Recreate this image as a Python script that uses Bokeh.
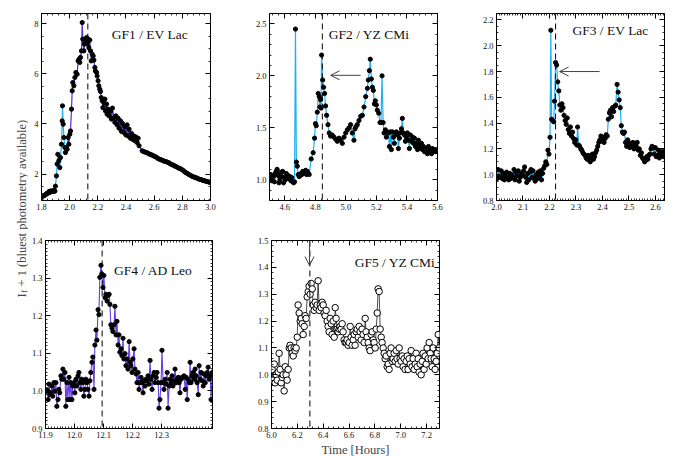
import math
from bokeh.plotting import figure
from bokeh.layouts import row, column
from bokeh.models import (Range1d, SingleIntervalTicker, FixedTicker, PrintfTickFormatter,
                          LinearAxis, Span, Arrow, OpenHead, Label)
from bokeh.embed import file_html
from bokeh.resources import INLINE

FONT = "Liberation Serif"
CYAN = "#1fb0f2"
PURPLE = "#5b2bd6"
PURPLE4 = "#6a3ee0"

# ---------------- data (time [hours], I_f + 1) ----------------
GF1 = [(1.800,1.10),(1.806,1.12),(1.812,1.13),(1.818,1.14),(1.824,1.17),(1.830,1.18),(1.836,1.22),
       (1.842,1.24),(1.848,1.25),(1.854,1.31),(1.860,1.28),(1.866,1.33),(1.872,1.30),(1.878,1.33),
       (1.884,1.31),(1.890,1.35),(1.895,1.32),(1.899,1.52),(1.906,1.93),(1.911,2.40),(1.916,2.79),
       (1.923,2.53),(1.930,2.26),(1.935,2.66),(1.942,3.19),(1.947,4.12),(1.949,4.72),(1.954,3.99),
       (1.959,3.46),(1.966,3.06),(1.970,2.86),(1.975,3.06),(1.982,2.99),(1.989,3.46),(1.994,3.19),
       (2.001,3.59),(2.006,3.72),(2.013,4.59),(2.018,5.32),(2.022,5.65),(2.030,5.52),(2.037,5.85),
       (2.044,6.05),(2.053,5.98),(2.060,6.51),(2.067,6.58),(2.072,6.45),(2.077,6.65),(2.084,6.91),
       (2.089,8.04),(2.093,7.38),(2.101,6.91),(2.105,7.18),(2.112,7.34),(2.120,7.44),(2.124,7.20),
       (2.131,7.38),(2.136,7.04),(2.143,7.34),(2.148,6.91),(2.153,6.51),(2.160,6.78),(2.167,6.71),
       (2.172,6.54),(2.179,6.25),(2.183,6.11),(2.191,6.05),(2.195,5.91),(2.202,5.72),(2.207,5.52),
       (2.214,5.38),(2.219,5.29),(2.224,5.05),(2.231,4.92),(2.236,4.65),(2.243,4.85),(2.250,4.99),
       (2.254,4.52),(2.262,4.79),(2.266,4.39),(2.273,4.59),(2.280,4.32),(2.290,4.52),(2.297,4.19),
       (2.304,4.63),(2.314,4.25),(2.321,4.06),(2.328,4.32),(2.337,3.96),(2.344,4.23),(2.351,3.83),
       (2.361,4.12),(2.368,3.70),(2.375,4.02),(2.385,3.66),(2.392,3.88),(2.399,3.56),(2.408,3.96),
       (2.415,3.52),(2.422,3.79),(2.432,3.43),(2.439,3.62),(2.446,3.39),(2.456,3.52),(2.463,3.33),
       (2.470,3.48),(2.479,3.26),(2.486,3.43),(2.493,3.13),
       (2.515,2.93),(2.525,2.90),(2.535,2.88),(2.545,2.86),(2.555,2.84),(2.565,2.80),(2.575,2.78),
       (2.585,2.76),(2.595,2.73),(2.605,2.70),(2.615,2.68),(2.625,2.63),(2.635,2.60),(2.645,2.58),
       (2.655,2.56),(2.665,2.53),(2.675,2.51),(2.685,2.50),(2.695,2.47),(2.705,2.45),(2.715,2.41),
       (2.725,2.38),(2.735,2.36),(2.745,2.33),(2.755,2.30),(2.765,2.27),(2.775,2.24),(2.785,2.22),
       (2.795,2.19),(2.805,2.15),(2.815,2.10),(2.825,2.06),(2.835,2.03),(2.845,1.99),(2.855,1.96),
       (2.865,1.93),(2.875,1.90),(2.885,1.88),(2.895,1.86),(2.905,1.84),(2.915,1.81),(2.925,1.79),
       (2.935,1.78),(2.945,1.75),(2.955,1.74),(2.965,1.72),(2.975,1.71),(2.985,1.69),(2.995,1.67)]

GF2 = [(4.502,1.02),(4.508,1.05),(4.514,0.99),(4.520,1.04),(4.526,1.03),(4.532,0.98),(4.538,1.06),
       (4.544,1.08),(4.550,1.10),(4.556,1.04),(4.562,0.97),(4.568,1.00),(4.574,1.07),(4.580,1.03),
       (4.586,1.08),(4.592,0.97),(4.598,1.02),(4.604,1.00),(4.610,1.06),(4.616,1.02),(4.622,1.04),
       (4.628,1.01),(4.634,1.03),(4.640,0.99),(4.646,1.02),(4.652,0.98),(4.658,0.97),(4.664,0.98),
       (4.670,2.45),(4.676,1.17),(4.682,1.13),(4.688,1.05),(4.694,1.03),(4.700,1.04),(4.706,1.06),
       (4.712,1.05),(4.718,1.08),(4.724,1.06),(4.730,1.07),(4.736,1.09),(4.742,1.05),(4.748,1.08),
       (4.754,1.06),(4.760,1.05),(4.773,1.20),(4.786,1.26),(4.795,1.40),(4.801,1.54),(4.806,1.52),
       (4.813,1.65),(4.819,1.83),(4.826,1.80),(4.830,1.70),(4.835,1.77),(4.838,1.69),(4.841,2.20),
       (4.848,1.96),(4.854,1.89),(4.861,1.83),(4.867,1.71),(4.874,1.62),(4.883,1.53),(4.891,1.45),
       (4.900,1.42),(4.911,1.43),(4.922,1.41),(4.933,1.39),(4.944,1.37),(4.955,1.40),(4.966,1.38),
       (4.977,1.35),(4.988,1.41),(4.999,1.45),(5.010,1.48),(5.021,1.50),(5.031,1.53),(5.042,1.45),
       (5.053,1.38),(5.060,1.49),(5.066,1.51),(5.075,1.53),(5.086,1.57),(5.097,1.61),(5.108,1.62),
       (5.119,1.70),(5.130,1.80),(5.141,1.88),(5.147,1.96),(5.154,2.05),(5.160,2.16),(5.167,1.97),
       (5.174,1.89),(5.180,1.86),(5.187,1.73),(5.193,1.76),(5.200,1.72),(5.206,1.67),(5.215,1.64),
       (5.224,1.55),(5.230,1.55),(5.237,2.00),(5.244,1.55),(5.250,1.45),(5.259,1.48),(5.265,1.41),
       (5.272,1.46),(5.279,1.45),(5.285,1.32),(5.292,1.46),(5.298,1.29),(5.305,1.46),(5.311,1.41),
       (5.318,1.35),(5.324,1.45),(5.331,1.46),(5.338,1.43),(5.344,1.30),(5.351,1.40),(5.357,1.45),
       (5.364,1.49),(5.370,1.59),(5.377,1.45),(5.384,1.43),(5.390,1.37),(5.397,1.41),(5.403,1.45),
       (5.410,1.38),(5.416,1.30),(5.423,1.43),(5.429,1.37),(5.436,1.41),(5.443,1.35),(5.449,1.40),
       (5.456,1.32),(5.462,1.35),(5.469,1.29),(5.475,1.38),(5.482,1.33),(5.489,1.30),(5.495,1.35),
       (5.502,1.29),(5.508,1.32),(5.515,1.27),(5.521,1.30),(5.528,1.29),(5.534,1.25),(5.541,1.32),
       (5.548,1.27),(5.554,1.29),(5.561,1.25),(5.567,1.30),(5.574,1.27),(5.580,1.29),(5.589,1.27),
       (5.598,1.29)]

GF3 = [(2.002,0.97),(2.006,1.04),(2.010,0.99),(2.014,0.98),(2.018,1.03),(2.022,0.97),(2.026,1.01),
       (2.030,0.96),(2.034,0.99),(2.038,1.02),(2.042,0.98),(2.046,0.96),(2.050,1.01),(2.054,0.97),
       (2.058,1.00),(2.062,0.98),(2.066,1.04),(2.070,0.96),(2.074,1.02),(2.078,0.99),(2.082,1.03),
       (2.086,0.95),(2.090,0.98),(2.094,1.01),(2.098,1.00),(2.102,1.03),(2.106,1.06),(2.110,0.98),
       (2.114,0.94),(2.118,1.01),(2.122,0.96),(2.126,1.02),(2.130,1.04),(2.134,0.98),(2.138,1.03),
       (2.142,0.97),(2.146,0.95),(2.150,1.00),(2.154,0.97),(2.158,1.02),(2.162,0.99),(2.166,1.03),
       (2.170,0.96),(2.174,1.01),(2.178,1.05),(2.182,1.07),(2.186,1.10),(2.190,1.08),(2.194,1.19),
       (2.198,1.16),(2.202,1.29),(2.205,2.12),(2.208,1.43),(2.212,1.42),(2.216,1.41),(2.219,1.57),
       (2.223,1.87),(2.227,1.85),(2.231,1.72),(2.235,1.65),(2.239,1.54),(2.243,1.50),(2.247,1.55),
       (2.251,1.52),(2.255,1.46),(2.259,1.42),(2.263,1.39),(2.267,1.44),(2.271,1.35),(2.275,1.32),
       (2.279,1.37),(2.283,1.30),(2.287,1.33),(2.291,1.28),(2.295,1.25),(2.299,1.27),(2.303,1.23),
       (2.306,1.37),(2.310,1.23),(2.314,1.22),(2.318,1.20),(2.322,1.19),(2.326,1.17),(2.330,1.16),
       (2.334,1.15),(2.338,1.13),(2.342,1.12),(2.346,1.15),(2.350,1.11),(2.354,1.10),(2.358,1.13),
       (2.362,1.16),(2.366,1.12),(2.370,1.14),(2.374,1.17),(2.378,1.19),(2.382,1.22),(2.386,1.25),
       (2.390,1.27),(2.394,1.30),(2.398,1.26),(2.402,1.29),(2.406,1.25),(2.410,1.28),(2.414,1.31),
       (2.418,1.30),(2.422,1.43),(2.426,1.48),(2.430,1.50),(2.434,1.45),(2.438,1.52),(2.442,1.49),
       (2.446,1.53),(2.450,1.54),(2.455,1.70),(2.459,1.64),(2.463,1.58),(2.467,1.52),(2.471,1.38),
       (2.475,1.33),(2.479,1.32),(2.483,1.33),(2.487,1.25),(2.491,1.22),(2.495,1.27),(2.499,1.25),
       (2.503,1.21),(2.507,1.24),(2.511,1.22),(2.515,1.25),(2.519,1.20),(2.523,1.24),(2.527,1.22),
       (2.531,1.25),(2.535,1.19),(2.539,1.20),(2.543,1.15),(2.547,1.17),(2.551,1.13),(2.555,1.12),
       (2.559,1.10),(2.563,1.11),(2.567,1.14),(2.571,1.12),(2.575,1.15),(2.579,1.16),(2.583,1.20),
       (2.587,1.22),(2.591,1.21),(2.595,1.16),(2.599,1.21),(2.603,1.14),(2.607,1.15),(2.611,1.19),
       (2.615,1.13),(2.619,1.17),(2.623,1.15),(2.627,1.18),(2.631,1.14)]

GF4 = [(11.901,0.999),(11.906,1.002),(11.909,0.977),(11.912,1.018),(11.915,0.990),(11.918,0.995),
       (11.922,1.013),(11.925,0.986),(11.929,1.022),(11.932,0.999),(11.936,1.022),(11.939,0.959),
       (11.943,0.977),(11.946,1.004),(11.949,0.995),(11.953,1.040),(11.956,1.031),(11.960,1.058),
       (11.963,1.031),(11.967,1.049),(11.970,0.959),(11.974,1.022),(11.977,0.977),(11.981,1.036),
       (11.984,0.977),(11.987,1.022),(11.991,0.977),(11.994,1.013),(11.998,1.022),(12.001,0.995),
       (12.005,1.031),(12.008,1.013),(12.012,1.040),(12.015,1.049),(12.018,1.022),(12.022,1.004),
       (12.025,1.031),(12.029,1.022),(12.032,0.986),(12.036,1.004),(12.039,1.031),(12.043,1.022),
       (12.046,1.004),(12.050,0.986),(12.053,1.027),(12.056,1.049),(12.060,1.076),(12.063,1.090),
       (12.067,1.004),(12.070,1.122),(12.074,1.162),(12.077,1.135),(12.081,1.216),(12.084,1.203),
       (12.087,1.302),(12.091,1.334),(12.094,1.311),(12.098,1.275),(12.101,1.307),(12.105,1.248),
       (12.108,1.257),(12.112,1.239),(12.115,1.253),(12.119,1.257),(12.122,1.230),(12.125,1.176),
       (12.129,1.167),(12.132,1.158),(12.136,1.176),(12.139,1.225),(12.143,1.149),(12.146,1.185),
       (12.150,1.122),(12.153,1.149),(12.156,1.103),(12.160,1.112),(12.163,1.094),(12.167,1.140),
       (12.170,1.085),(12.174,1.099),(12.177,1.067),(12.181,1.085),(12.184,1.058),(12.188,1.131),
       (12.191,1.076),(12.194,1.067),(12.198,1.049),(12.201,1.085),(12.205,1.112),(12.208,1.058),
       (12.212,1.045),(12.215,1.022),(12.219,1.049),(12.222,1.004),(12.225,1.022),(12.229,1.036),
       (12.232,1.022),(12.236,0.995),(12.239,1.027),(12.243,1.013),(12.246,1.031),(12.250,1.027),
       (12.253,1.040),(12.256,1.018),(12.260,1.081),(12.263,1.031),(12.267,1.004),(12.270,1.040),
       (12.274,1.049),(12.277,1.022),(12.281,1.036),(12.284,1.049),(12.288,1.022),(12.291,0.954),
       (12.294,0.977),(12.298,1.022),(12.301,1.108),(12.305,1.022),(12.308,1.004),(12.312,1.031),
       (12.315,1.018),(12.319,1.049),(12.322,0.954),(12.326,1.013),(12.329,1.031),(12.332,1.022),
       (12.336,1.040),(12.339,1.013),(12.343,1.027),(12.346,1.058),(12.350,1.022),(12.353,1.031),
       (12.357,1.036),(12.360,1.022),(12.363,0.995),(12.367,1.031),(12.370,1.036),(12.374,1.036),
       (12.377,1.040),(12.381,1.004),(12.384,1.036),(12.388,0.977),(12.391,1.031),(12.395,1.022),
       (12.398,1.076),(12.401,1.022),(12.405,1.040),(12.408,1.049),(12.412,1.031),(12.415,1.058),
       (12.419,1.040),(12.422,1.022),(12.426,0.990),(12.429,1.067),(12.432,1.031),(12.436,1.049),
       (12.439,1.027),(12.443,1.013),(12.446,1.045),(12.450,1.022),(12.453,1.040),(12.457,1.049),
       (12.460,1.063),(12.464,1.031),(12.467,1.040),(12.470,0.977),(12.474,1.049)]

GF5 = [(6.005,1.02),(6.013,0.98),(6.021,1.04),(6.028,0.97),(6.036,1.00),(6.044,0.98),(6.052,1.01),
       (6.059,1.08),(6.067,1.02),(6.075,0.97),(6.083,0.99),(6.090,1.00),(6.098,0.94),(6.106,1.03),
       (6.113,1.00),(6.121,0.98),(6.129,1.02),(6.137,1.10),(6.144,1.11),(6.152,1.10),(6.160,1.08),
       (6.168,1.07),(6.175,1.10),(6.183,1.09),(6.191,1.10),(6.199,1.14),(6.206,1.26),(6.214,1.23),
       (6.222,1.20),(6.230,1.21),(6.237,1.19),(6.245,1.15),(6.253,1.18),(6.260,1.22),(6.268,1.21),
       (6.276,1.29),(6.284,1.31),(6.291,1.33),(6.299,1.30),(6.307,1.34),(6.315,1.32),(6.322,1.26),
       (6.330,1.24),(6.338,1.27),(6.346,1.25),(6.353,1.26),(6.361,1.35),(6.369,1.24),(6.377,1.26),
       (6.384,1.25),(6.392,1.27),(6.400,1.26),(6.407,1.23),(6.415,1.22),(6.423,1.24),(6.431,1.20),
       (6.438,1.18),(6.446,1.16),(6.454,1.21),(6.462,1.19),(6.469,1.15),(6.477,1.20),(6.485,1.14),
       (6.493,1.25),(6.500,1.21),(6.508,1.17),(6.516,1.16),(6.524,1.17),(6.531,1.18),(6.539,1.17),
       (6.547,1.19),(6.554,1.16),(6.562,1.13),(6.570,1.12),(6.578,1.12),(6.585,1.13),(6.593,1.11),
       (6.601,1.12),(6.609,1.18),(6.616,1.14),(6.624,1.11),(6.632,1.13),(6.640,1.15),(6.647,1.11),
       (6.655,1.16),(6.663,1.17),(6.671,1.14),(6.678,1.18),(6.686,1.16),(6.694,1.13),(6.701,1.17),
       (6.709,1.15),(6.717,1.12),(6.725,1.21),(6.732,1.16),(6.740,1.14),(6.748,1.12),(6.756,1.10),
       (6.763,1.09),(6.771,1.15),(6.779,1.16),(6.787,1.13),(6.794,1.12),(6.802,1.10),(6.810,1.17),
       (6.818,1.23),(6.825,1.32),(6.833,1.31),(6.841,1.17),(6.849,1.14),(6.856,1.12),(6.864,1.10),
       (6.872,1.08),(6.879,1.06),(6.887,1.07),(6.895,1.03),(6.903,1.04),(6.910,1.02),(6.918,1.08),
       (6.926,1.10),(6.934,1.05),(6.941,1.06),(6.949,1.08),(6.957,1.05),(6.965,1.09),(6.972,1.06),
       (6.980,1.04),(6.988,1.10),(6.995,1.06),(7.003,1.05),(7.011,1.07),(7.019,1.03),(7.026,1.06),
       (7.034,1.02),(7.042,1.05),(7.050,1.07),(7.057,1.02),(7.065,1.06),(7.073,1.04),(7.081,1.09),
       (7.088,1.03),(7.096,1.06),(7.104,1.02),(7.112,1.04),(7.119,1.08),(7.127,1.03),(7.135,1.06),
       (7.142,1.01),(7.150,1.04),(7.158,1.00),(7.166,1.05),(7.173,1.08),(7.181,1.02),(7.189,1.07),
       (7.197,1.04),(7.204,1.10),(7.212,1.06),(7.220,1.12),(7.228,1.08),(7.235,1.06),(7.243,1.03),
       (7.251,1.10),(7.259,1.06),(7.266,1.02),(7.274,1.05),(7.282,1.08),(7.290,1.15),(7.297,1.10)]

GF1_COLOR_SPLIT = 1.975          # cyan segment ends, purple begins

TITLES = ["GF1 / EV Lac", "GF2 / YZ CMi", "GF3 / EV Lac", "GF4 / AD Leo", "GF5 / YZ CMi"]
PEAK_TIMES = [2.129, 4.846, 2.223, 12.095, 6.297]     # dashed vertical markers
GF4_XTICKS = [11.9, 12.0, 12.1, 12.2, 12.3]


def tt(pts):
    return [p[0] for p in pts]


def ff(pts):
    return [p[1] for p in pts]


def style_axis(ax, ticker, fmt, labels):
    ax.ticker = ticker
    ax.formatter = PrintfTickFormatter(format=fmt)
    ax.axis_line_color = None
    ax.major_tick_in = 5
    ax.major_tick_out = 0
    ax.minor_tick_in = 2
    ax.minor_tick_out = 0
    ax.major_tick_line_color = "black"
    ax.minor_tick_line_color = "black"
    ax.major_tick_line_width = 1
    ax.minor_tick_line_width = 0.8
    ax.major_label_text_font = FONT
    ax.major_label_text_font_style = "normal"
    if labels:
        ax.major_label_text_color = "#111111"
        ax.major_label_text_font_size = "8.5px"
        ax.major_label_standoff = 3
    else:
        ax.major_label_text_color = None
        ax.major_label_text_font_size = "1px"
        ax.major_label_standoff = 0


def panel(xr, yr, xtick, ytick, yfmt, fw, fh, lb, rb, tb, bb):
    p = figure(frame_width=fw, frame_height=fh, x_range=Range1d(*xr), y_range=Range1d(*yr),
               output_backend="svg", toolbar_location=None,
               min_border_left=lb, min_border_right=rb, min_border_top=tb, min_border_bottom=bb)
    p.xgrid.visible = False
    p.ygrid.visible = False
    p.outline_line_color = "black"
    p.outline_line_width = 1
    p.add_layout(LinearAxis(), "above")
    p.add_layout(LinearAxis(), "right")
    style_axis(p.below[0], xtick(), "%.1f", True)
    style_axis(p.above[0], xtick(), "%.1f", False)
    style_axis(p.left[0], ytick(), yfmt, True)
    style_axis(p.right[0], ytick(), yfmt, False)
    return p


def title(p, x, y, text):
    p.add_layout(Label(x=x, y=y, text=text, text_align="right", text_baseline="middle",
                       text_font=FONT, text_font_size="13.5px", text_font_style="normal",
                       text_color="#111111"))


def dashed(p, loc):
    p.add_layout(Span(location=loc, dimension="height", line_color="black",
                      line_dash="6 4", line_width=1))


def arrow(p, x0, y0, x1, y1):
    p.add_layout(Arrow(end=OpenHead(size=9, line_color="#444444", line_width=1),
                       x_start=x0, y_start=y0, x_end=x1, y_end=y1,
                       line_color="#444444", line_width=1))


def sit(iv, n):
    return lambda: SingleIntervalTicker(interval=iv, num_minor_ticks=n)


MS = 4.2  # filled marker size

# ---------------- GF1 ----------------
f1 = panel((1.8, 3.0001), (0.95, 8.4), sit(0.2, 5), sit(2, 4), "%d", 169, 187, 13, 8, 13, 22)
t1, y1 = tt(GF1), ff(GF1)
k = sum(1 for t in t1 if t <= GF1_COLOR_SPLIT)
f1.line(t1[:k], y1[:k], line_color=CYAN, line_width=1.2)
f1.line(t1[k - 1:], y1[k - 1:], line_color=PURPLE, line_width=1.2)
f1.scatter(t1, y1, size=MS, color="black")
dashed(f1, PEAK_TIMES[0])
title(f1, 2.84, 7.57, TITLES[0])

# ---------------- GF2 ----------------
f2 = panel((4.5, 5.6001), (0.8, 2.6), sit(0.2, 5), sit(0.5, 5), "%.1f", 168, 187, 51, 8, 13, 22)
f2.line(tt(GF2), ff(GF2), line_color=CYAN, line_width=1.2)
f2.scatter(tt(GF2), ff(GF2), size=MS, color="black")
dashed(f2, PEAK_TIMES[1])
arrow(f2, 5.097, 2.005, 4.90, 2.005)
title(f2, 5.416, 2.40, TITLES[1])

# ---------------- GF3 ----------------
f3 = panel((2.0, 2.634), (0.8, 2.25), sit(0.1, 10), sit(0.2, 4), "%.1f", 168, 187, 51, 8, 13, 22)
f3.line(tt(GF3), ff(GF3), line_color=CYAN, line_width=1.2)
f3.scatter(tt(GF3), ff(GF3), size=MS, color="black")
dashed(f3, PEAK_TIMES[2])
arrow(f3, 2.389, 1.80, 2.238, 1.80)
title(f3, 2.574, 2.12, TITLES[2])

# ---------------- GF4 ----------------
gf4_minor = [round(11.9 + 0.01 * i, 3) for i in range(0, 58)]
f4 = panel((11.9, 12.475), (0.9, 1.4001),
           lambda: FixedTicker(ticks=GF4_XTICKS, minor_ticks=gf4_minor),
           sit(0.1, 10), "%.1f", 167, 188, 15, 8, 18, 26)
f4.line(tt(GF4), ff(GF4), line_color=PURPLE4, line_width=1.1)
f4.scatter(tt(GF4), ff(GF4), size=MS, color="black")
dashed(f4, PEAK_TIMES[3])
title(f4, 12.406, 1.321, TITLES[3])

# ---------------- GF5 ----------------
f5 = panel((6.0, 7.3), (0.8, 1.5001), sit(0.2, 5), sit(0.1, 5), "%.1f", 168, 188, 51, 8, 18, 26)
f5.line(tt(GF5), ff(GF5), line_color="#222222", line_width=0.8)
f5.scatter(tt(GF5), ff(GF5), size=6.5, marker="circle", fill_color="white",
           line_color="black", line_width=1)
dashed(f5, PEAK_TIMES[4])
arrow(f5, 6.294, 1.5, 6.294, 1.407)
title(f5, 7.268, 1.42, TITLES[4])
f5.below[0].axis_label = "Time [Hours]"
f5.below[0].axis_label_text_font = FONT
f5.below[0].axis_label_text_font_size = "12.5px"
f5.below[0].axis_label_text_font_style = "normal"
f5.below[0].axis_label_standoff = 2

# ---------------- shared y label ----------------
lf = figure(frame_width=28, frame_height=454, x_range=Range1d(0, 28), y_range=Range1d(0, 454),
            x_axis_type=None, y_axis_type=None, output_backend="svg", toolbar_location=None,
            min_border=0)
lf.outline_line_color = None
lf.grid.visible = False
rot = math.pi / 2
lf.add_layout(Label(x=21.0, y=157, text="I", angle=rot, text_align="left",
                    text_baseline="alphabetic", text_font=FONT, text_font_size="12.5px",
                    text_font_style="normal"))
lf.add_layout(Label(x=23.5, y=161.4, text="f", angle=rot, text_align="left",
                    text_baseline="alphabetic", text_font=FONT, text_font_size="9px",
                    text_font_style="normal"))
lf.add_layout(Label(x=21.0, y=168, text="+ 1 (bluest photometry available)", angle=rot,
                    text_align="left", text_baseline="alphabetic", text_font=FONT,
                    text_font_size="12.5px", text_font_style="normal"))

layout = row(lf, column(row(f1, f2, f3), row(f4, f5)))

with open("out.html", "w") as fh:
    fh.write(file_html(layout, INLINE, title="flares"))
